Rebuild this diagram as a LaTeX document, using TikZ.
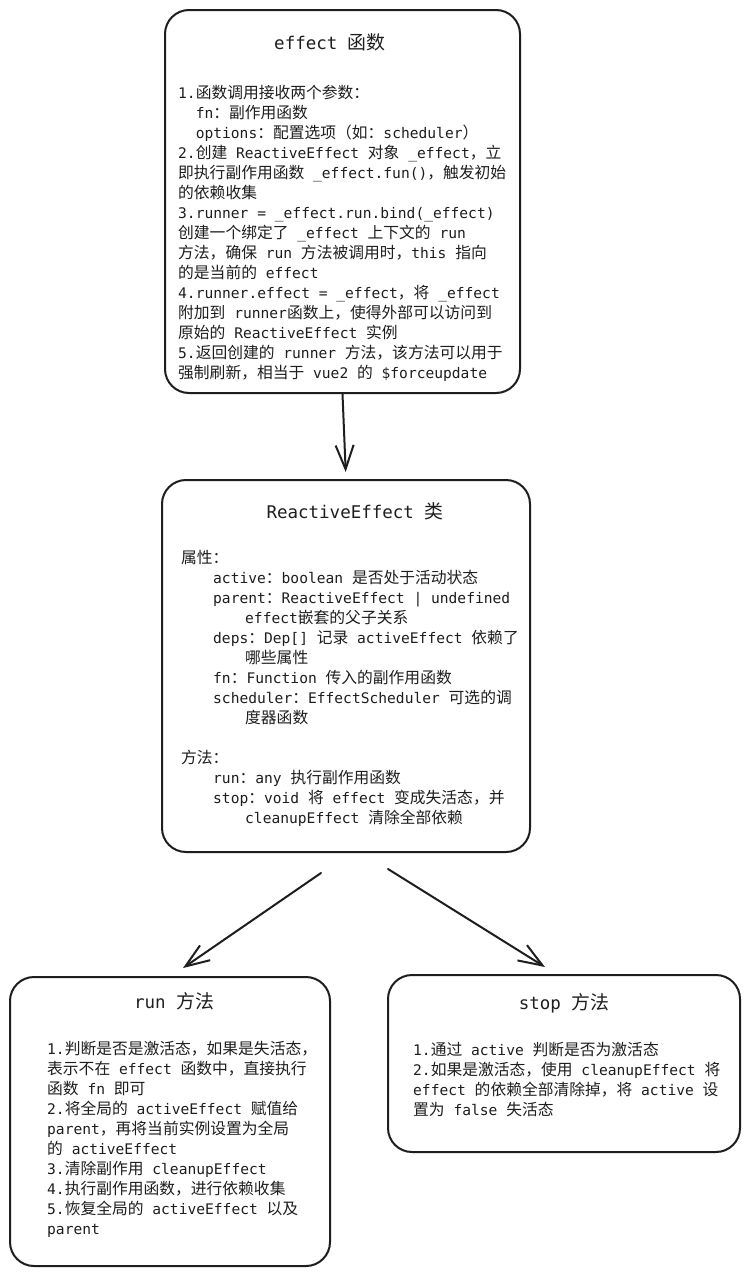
\documentclass[tikz,border=0pt]{standalone}
\usepackage{fontspec}
\setmainfont{DejaVu Sans Mono}
\newfontfamily\cjk{Noto Sans CJK SC}[Scale=1.08]
\usetikzlibrary{arrows.meta}
\newcommand\zh[1]{{\cjk #1}}
\definecolor{ink}{HTML}{1E1E1E}
\tikzset{
  box/.style={draw=ink, line width=2pt, rounded corners=24pt, inner sep=0pt},
  txt/.style={anchor=base west, inner sep=0pt, text=ink, font=\fontsize{14.6}{20}\selectfont},
  ttl/.style={anchor=base, inner sep=0pt, text=ink, font=\fontsize{17.5}{20}\selectfont},
  arr/.style={draw=ink, line width=2pt, line cap=round, -{Straight Barb[length=24pt,width=18pt]}}
}
\begin{document}
\begin{tikzpicture}[x=1pt,y=-1pt]
\useasboundingbox[fill=white] (0,0) rectangle (749,1277);

% boxes
\node[box, minimum width=355pt, minimum height=383pt] (b1) at (342.5,201.5) {};
\node[box, minimum width=368pt, minimum height=372pt] (b2) at (346,666) {};
\node[box, minimum width=320pt, minimum height=289pt] (b3) at (170,1121.5) {};
\node[box, minimum width=352pt, minimum height=177pt] (b4) at (564,1063.5) {};

% titles
\node[ttl] (t1) at (330,49) {effect \zh{函数}};
\node[ttl] (t2) at (355,518) {ReactiveEffect \zh{类}};
\node[ttl] (t3) at (174,1008) {run \zh{方法}};
\node[ttl] (t4) at (564,1009) {stop \zh{方法}};

% box 1 text
\foreach \t [count=\i from 0] in {
  {1.\zh{函数调用接收两个参数：}},
  {\hspace*{17.6pt}fn\zh{：副作用函数}},
  {\hspace*{17.6pt}options\zh{：配置选项（如：}scheduler\zh{）}},
  {2.\zh{创建} ReactiveEffect \zh{对象} \_effect\zh{，立}},
  {\zh{即执行副作用函数} \_effect.fun()\zh{，触发初始}},
  {\zh{的依赖收集}},
  {3.runner = \_effect.run.bind(\_effect)},
  {\zh{创建一个绑定了} \_effect \zh{上下文的} run},
  {\zh{方法，确保} run \zh{方法被调用时，}this \zh{指向}},
  {\zh{的是当前的} effect},
  {4.runner.effect = \_effect\zh{，将} \_effect},
  {\zh{附加到} runner\zh{函数上，使得外部可以访问到}},
  {\zh{原始的} ReactiveEffect \zh{实例}},
  {5.\zh{返回创建的} runner \zh{方法，该方法可以用于}},
  {\zh{强制刷新，相当于} vue2 \zh{的} \$forceupdate}
}{
  \node[txt] (b1l\i) at (178,{98+20*\i}) {\t};
}

% box 2 text
\foreach \x/\y/\t [count=\i] in {
  181/558/{\zh{属性：}},
  213/578/{active\zh{：}boolean \zh{是否处于活动状态}},
  213/598/{parent\zh{：}ReactiveEffect | undefined},
  245/618/{effect\zh{嵌套的父子关系}},
  213/638/{deps\zh{：}Dep[] \zh{记录} activeEffect \zh{依赖了}},
  245/658/{\zh{哪些属性}},
  213/678/{fn\zh{：}Function \zh{传入的副作用函数}},
  213/698/{scheduler\zh{：}EffectScheduler \zh{可选的调}},
  245/718/{\zh{度器函数}},
  181/758/{\zh{方法：}},
  213/778/{run\zh{：}any \zh{执行副作用函数}},
  213/798/{stop\zh{：}void \zh{将} effect \zh{变成失活态，并}},
  245/818/{cleanupEffect \zh{清除全部依赖}}
}{
  \node[txt] (b2l\i) at (\x,{\y+5}) {\t};
}

% box 3 text
\foreach \t [count=\i from 0] in {
  {1.\zh{判断是否是激活态，如果是失活态，}},
  {\zh{表示不在} effect \zh{函数中，直接执行}},
  {\zh{函数} fn \zh{即可}},
  {2.\zh{将全局的} activeEffect \zh{赋值给}},
  {parent\zh{，再将当前实例设置为全局}},
  {\zh{的} activeEffect},
  {3.\zh{清除副作用} cleanupEffect},
  {4.\zh{执行副作用函数，进行依赖收集}},
  {5.\zh{恢复全局的} activeEffect \zh{以及}},
  {parent}
}{
  \node[txt] (b3l\i) at (47,{1054+20*\i}) {\t};
}

% box 4 text
\foreach \t [count=\i from 0] in {
  {1.\zh{通过} active \zh{判断是否为激活态}},
  {2.\zh{如果是激活态，使用} cleanupEffect \zh{将}},
  {effect \zh{的依赖全部清除掉，将} active \zh{设}},
  {\zh{置为} false \zh{失活态}}
}{
  \node[txt] (b4l\i) at (413,{1055+20*\i}) {\t};
}

% connectors
\draw[arr, shorten >=7pt] (b1.south) -- (b2.north);
\coordinate (l0) at (321,873);
\coordinate (l1) at (183,968);
\coordinate (r0) at (388,869);
\coordinate (r1) at (545,967);
\draw[arr] (l0) -- (l1);
\draw[arr] (r0) -- (r1);
\end{tikzpicture}
\end{document}
